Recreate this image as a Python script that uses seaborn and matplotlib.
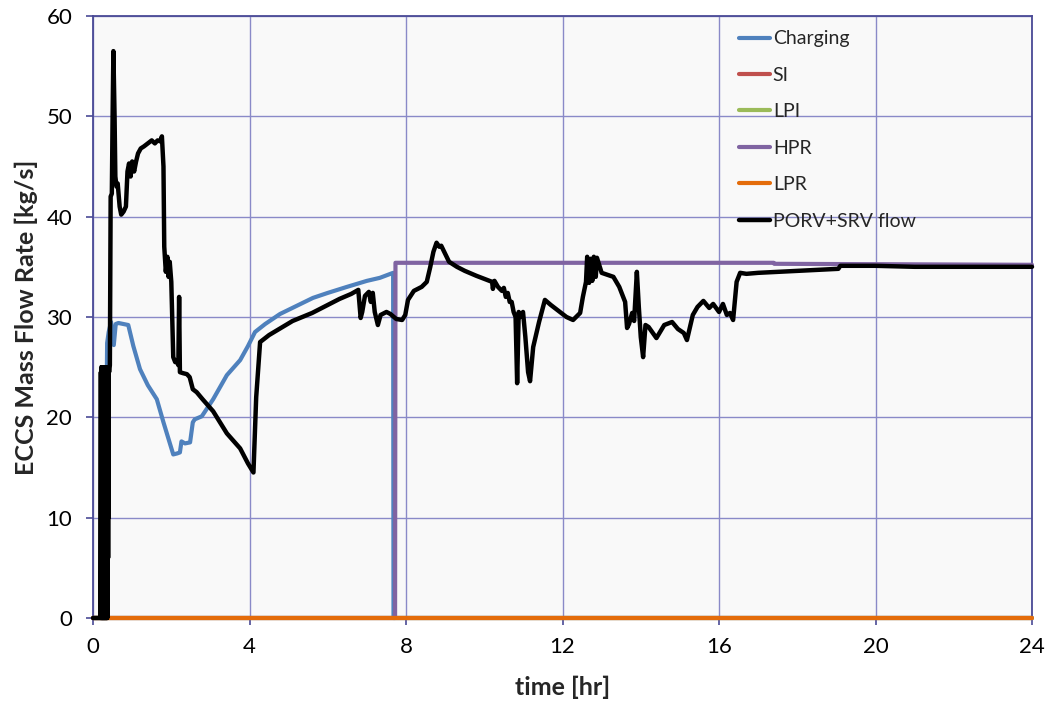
import numpy as np
import pandas as pd
import seaborn as sns
import matplotlib.pyplot as plt

# Series (time in hr, flow in kg/s)
charging_t = [0, 0.30, 0.33, 0.36, 0.40, 0.46, 0.53, 0.58, 0.65, 0.9,
              1.03, 1.2, 1.4, 1.63, 1.8, 2.05, 2.15, 2.22, 2.26, 2.35,
              2.48, 2.55, 2.6, 2.78, 3.07, 3.42, 3.76, 3.96, 4.14, 4.4,
              4.78, 5.2, 5.62, 6.0, 6.49, 7.0, 7.33, 7.67, 7.68, 24]
charging_v = [0, 0, 15, 27.4, 28.5, 29.5, 27.2, 29.3, 29.4, 29.2,
              27.1, 24.8, 23.2, 21.8, 19.5, 16.3, 16.4, 16.5, 17.6, 17.4,
              17.5, 19.5, 19.8, 20.1, 21.8, 24.2, 25.7, 27.1, 28.5, 29.3,
              30.3, 31.1, 31.9, 32.4, 33.0, 33.6, 33.9, 34.4, 0, 0]

si_t = [0, 24]
si_v = [0, 0]
lpi_t = [0, 24]
lpi_v = [0, 0]

hpr_t = [0, 7.72, 7.73, 17.4, 17.41, 24]
hpr_v = [0, 0, 35.4, 35.4, 35.3, 35.2]

lpr_t = [0, 24]
lpr_v = [0, 0]

porv_t = [0, 0.19, 0.20, 0.205, 0.21, 0.215, 0.22, 0.225, 0.23, 0.235,
          0.24, 0.245, 0.25, 0.255, 0.26, 0.265, 0.27, 0.275, 0.28, 0.285,
          0.29, 0.295, 0.30, 0.305, 0.31, 0.315, 0.32, 0.325, 0.33, 0.335,
          0.34, 0.345, 0.35, 0.355, 0.36, 0.365, 0.37, 0.375, 0.38, 0.385,
          0.39, 0.395, 0.40, 0.41, 0.43, 0.45, 0.48, 0.50, 0.52, 0.55,
          0.57, 0.60, 0.63, 0.68, 0.72, 0.78, 0.84, 0.88, 0.92, 0.96,
          1.0, 1.05, 1.1, 1.15, 1.22, 1.3, 1.4, 1.5, 1.58, 1.65,
          1.72, 1.76, 1.8, 1.82, 1.86, 1.9, 1.93, 1.96, 2.0, 2.05,
          2.1, 2.14, 2.18, 2.2, 2.22, 2.3, 2.4, 2.47, 2.55, 2.65,
          2.8, 3.07, 3.42, 3.76, 3.96, 4.1, 4.17, 4.27, 4.5, 4.8,
          5.1, 5.6, 6.0, 6.3, 6.6, 6.78, 6.84, 6.88, 6.95, 7.05,
          7.1, 7.15, 7.2, 7.28, 7.35, 7.5, 7.6, 7.75, 7.9, 7.98,
          8.05, 8.2, 8.4, 8.53, 8.62, 8.7, 8.78, 8.85, 8.9, 9.0,
          9.1, 9.3, 9.5, 9.8, 10.0, 10.2, 10.22, 10.26, 10.35, 10.45,
          10.5, 10.55, 10.6, 10.65, 10.7, 10.75, 10.8, 10.84, 10.88, 10.92,
          10.99, 11.05, 11.12, 11.17, 11.25, 11.4, 11.55, 11.7, 11.9, 12.1,
          12.27, 12.45, 12.52, 12.6, 12.63, 12.68, 12.72, 12.76, 12.8, 12.85,
          12.88, 13.0, 13.15, 13.3, 13.45, 13.6, 13.65, 13.7, 13.78, 13.83,
          13.9, 13.95, 14.0, 14.06, 14.12, 14.2, 14.4, 14.6, 14.8, 14.95,
          15.1, 15.18, 15.33, 15.45, 15.6, 15.75, 15.85, 16.0, 16.1, 16.2,
          16.28, 16.36, 16.45, 16.54, 16.7, 17.0, 17.5, 18.0, 18.5, 19.05,
          19.1, 19.5, 20, 21, 22, 23, 24]
porv_v = [0, 0, 24.5, 0, 25, 0, 24.8, 0, 25, 0,
          24.5, 0, 25, 0, 24.7, 0, 25, 0, 25, 0,
          25, 0, 24.6, 0, 25, 0, 24.8, 0, 25, 0,
          24.5, 0, 25, 0, 24.7, 0, 25, 2, 25, 6,
          25, 10, 25, 24.5, 25.2, 42, 42.3, 50, 56.5, 50,
          44, 43, 43.3, 41, 40.2, 40.5, 41, 44.5, 45.3, 44,
          45.5, 44.5, 45.5, 46.3, 46.8, 47, 47.3, 47.6, 47.3, 47.6,
          47.5, 48, 45, 37, 34.5, 36, 34, 35.5, 33.5, 26,
          25.5, 25.6, 25.2, 32, 24.5, 24.4, 24.3, 24, 22.8, 22.5,
          21.8, 20.6, 18.4, 16.9, 15.4, 14.5, 22, 27.5, 28.2, 28.9,
          29.6, 30.4, 31.2, 31.8, 32.3, 32.7, 29.9, 30.5, 32.1, 32.5,
          31.5, 32.4, 30.5, 29.2, 30.2, 30.5, 30.3, 29.8, 29.7, 30.2,
          31.7, 32.6, 33.0, 33.5, 35, 36.5, 37.4, 37, 37.1, 36.3,
          35.5, 35, 34.6, 34.1, 33.8, 33.5, 32.8, 33.6, 33, 32.6,
          32.9, 32, 32.4, 31.5, 31.5, 30.5, 30, 23.4, 30.5, 30,
          30.5, 28, 24.5, 23.6, 27, 29.5, 31.7, 31.2, 30.6, 30,
          29.7, 30.4, 32, 33.5, 36, 33.4, 35.8, 33.6, 36, 34,
          35.9, 34.4, 34.2, 34, 33, 31.5, 28.9, 29.3, 30.4, 29.6,
          34.5, 31, 28, 26, 29.2, 29, 27.9, 29.2, 29.5, 28.8,
          28.4, 27.7, 30.2, 31, 31.6, 30.9, 31.3, 30.5, 31.3, 30.2,
          30.4, 29.7, 33.5, 34.4, 34.3, 34.4, 34.5, 34.6, 34.7, 34.8,
          35.1, 35.1, 35.1, 35.0, 35.0, 35.0, 35.0]

labels = ['Charging', 'SI', 'LPI', 'HPR', 'LPR', 'PORV+SRV flow']
colors = ['#4f81bd', '#c0504d', '#9bbb59', '#8064a2', '#e46c0a', '#000000']
widths = [3.0, 3.0, 3.0, 3.0, 3.0, 3.2]
series = [(charging_t, charging_v), (si_t, si_v), (lpi_t, lpi_v),
          (hpr_t, hpr_v), (lpr_t, lpr_v), (porv_t, porv_v)]

sns.set_style('white')
plt.rcParams['font.family'] = ['Lato', 'DejaVu Sans']

fig = plt.figure(figsize=(10.49, 7.10), dpi=100)
ax = fig.add_axes([0.0887, 0.1296, 0.8951, 0.8479])
ax.set_facecolor('#f9f9f9')

for (t, v), lab, col, lw in zip(series, labels, colors, widths):
  sns.lineplot(x=t, y=v, ax=ax, color=col, linewidth=lw, label=lab,
               estimator=None, sort=False, zorder=3, clip_on=False)

ax.set_xlim(0, 24)
ax.set_ylim(0, 60)
ax.set_xticks(np.arange(0, 25, 4))
ax.set_yticks(np.arange(0, 61, 10))
ax.grid(True, color='#8a8ac8', linewidth=1.0)
ax.set_axisbelow(True)
for s in ax.spines.values():
  s.set_color('#4a4a96')
  s.set_linewidth(1.3)
ax.tick_params(axis='both', direction='out', length=5, width=1.2, color='#4a4a96',
               labelsize=16, labelcolor='black', bottom=True, left=True)
ax.tick_params(axis='y', pad=10)
ax.tick_params(axis='x', pad=9)

ax.set_xlabel('time [hr]', fontsize=18, fontweight='bold', labelpad=13)
ax.set_ylabel('ECCS Mass Flow Rate [kg/s]', fontsize=18, fontweight='bold', labelpad=6)

ax.legend(loc='upper left', bbox_to_anchor=(0.68, 0.989), frameon=False,
          fontsize=14, handlelength=1.6, handletextpad=0.12, labelspacing=1.0,
          borderaxespad=0)

fig.savefig('out.png', dpi=100)
